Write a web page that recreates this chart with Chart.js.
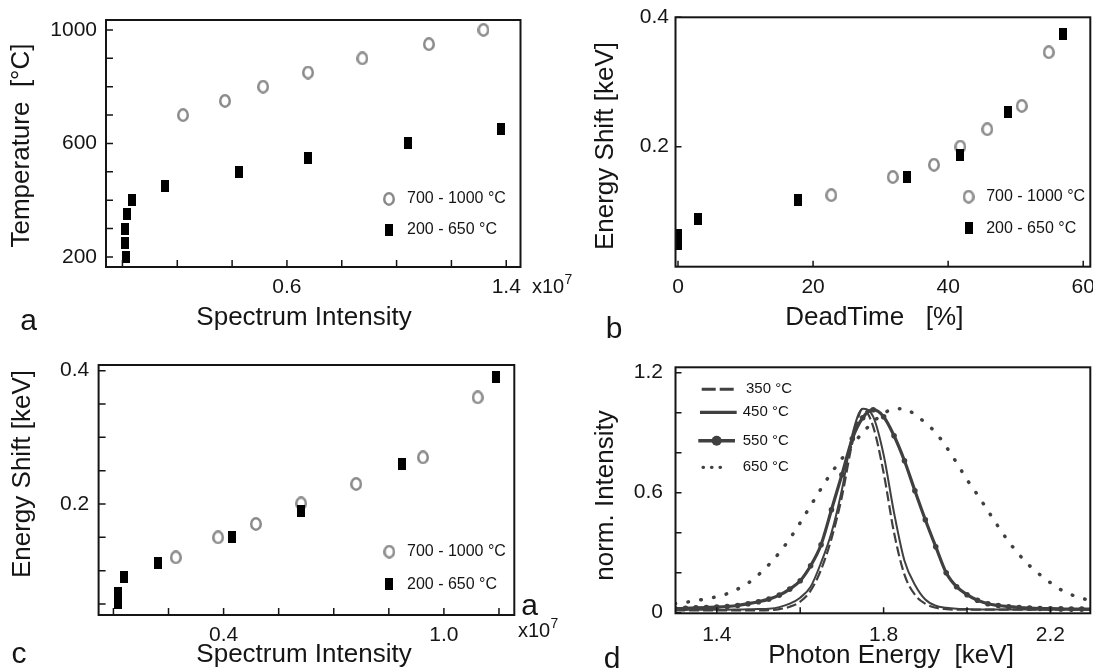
<!DOCTYPE html>
<html>
<head>
<meta charset="utf-8">
<script src="https://cdn.jsdelivr.net/npm/chart.js"></script>
<style>
  html, body { margin: 0; padding: 0; background: #fff; }
  #page { position: relative; width: 1093px; height: 672px; overflow: hidden; }
  #page canvas { position: absolute; }
</style>
</head>
<body>
<div id="page">
  <canvas id="chartA" width="580" height="336" style="left:0px;top:0px"></canvas>
  <canvas id="chartB" width="547" height="345" style="left:546px;top:0px"></canvas>
  <canvas id="chartC" width="565" height="336" style="left:0px;top:336px"></canvas>
  <canvas id="chartD" width="547" height="336" style="left:546px;top:336px"></canvas>
</div>
<script>
// ---- panel a : temperature vs spectrum intensity (x1e7)
const hotIntensityA = [0.221, 0.374, 0.513, 0.677, 0.875, 1.118, 1.317];
const hotTempA = [700, 750, 800, 850, 900, 950, 1000];
const coldIntensityA = [0.013, 0.010, 0.010, 0.015, 0.035, 0.157, 0.426, 0.677, 1.041, 1.380];
const coldTempA = [200, 250, 300, 350, 400, 450, 500, 550, 600, 650];
const xTicksA = [0, 0.2, 0.4, 0.6, 0.8, 1.0, 1.2, 1.4];
const xLabelsA = [0.6, 1.4];
const yTicksA = [200, 300, 400, 500, 600, 700, 800, 900, 1000];
const yLabelsA = [200, 600, 1000];

// ---- panel b : energy shift vs dead time
const hotDeadB = [22.7, 31.8, 37.9, 41.8, 45.8, 50.9, 54.9];
const hotShiftB = [0.125, 0.153, 0.172, 0.200, 0.227, 0.263, 0.346];
const coldDeadB = [0, 0, 2.9, 17.8, 33.9, 41.8, 48.9, 57.0];
const coldShiftB = [0.050, 0.063, 0.088, 0.117, 0.153, 0.187, 0.254, 0.374];
const xTicksB = [0, 20, 40, 60];
const yTicksB = [0.2, 0.4];

// ---- panel c : energy shift vs spectrum intensity (x1e7)
const hotIntensityC = [0.270, 0.385, 0.488, 0.611, 0.761, 0.943, 1.092];
const hotShiftC = [0.120, 0.150, 0.170, 0.201, 0.230, 0.270, 0.360];
const coldIntensityC = [0.113, 0.113, 0.129, 0.222, 0.423, 0.611, 0.885, 1.141];
const coldShiftC = [0.051, 0.066, 0.091, 0.111, 0.151, 0.190, 0.260, 0.390];
const xTicksC = [0.1, 0.25, 0.4, 0.55, 0.7, 0.85, 1.0, 1.15];
const xLabelsC = [0.4, 1.0];
const yTicksC = [0.05, 0.1, 0.15, 0.2, 0.25, 0.3, 0.35, 0.4];
const yLabelsC = [0.2, 0.4];

// ---- panel d : normalised spectra
const photonEnergy = [1.300, 1.325, 1.350, 1.375, 1.400, 1.425, 1.450, 1.475, 1.500, 1.525,
  1.550, 1.575, 1.600, 1.625, 1.650, 1.675, 1.700, 1.725, 1.750, 1.775,
  1.800, 1.825, 1.850, 1.875, 1.900, 1.925, 1.950, 1.975, 2.000, 2.025,
  2.050, 2.075, 2.100, 2.125, 2.150, 2.175, 2.200, 2.225, 2.250, 2.275, 2.300];
const spec350 = [0.012, 0.012, 0.012, 0.012, 0.012, 0.012, 0.012, 0.012, 0.012, 0.013,
  0.018, 0.030, 0.055, 0.110, 0.215, 0.370, 0.580, 0.850, 1.020, 0.930,
  0.700, 0.400, 0.190, 0.090, 0.045, 0.025, 0.018, 0.015, 0.015, 0.015,
  0.015, 0.015, 0.015, 0.015, 0.015, 0.015, 0.015, 0.015, 0.015, 0.015, 0.015];
const spec450 = [0.015, 0.015, 0.015, 0.015, 0.015, 0.015, 0.016, 0.017, 0.018, 0.020,
  0.028, 0.045, 0.075, 0.130, 0.250, 0.400, 0.615, 0.890, 1.020, 0.980,
  0.790, 0.500, 0.260, 0.140, 0.066, 0.035, 0.025, 0.020, 0.018, 0.016,
  0.016, 0.016, 0.016, 0.016, 0.016, 0.016, 0.016, 0.016, 0.016, 0.016, 0.016];
const spec550 = [0.020, 0.022, 0.024, 0.026, 0.028, 0.031, 0.036, 0.045, 0.055, 0.068,
  0.088, 0.118, 0.160, 0.235, 0.340, 0.515, 0.690, 0.870, 0.975, 1.015,
  0.980, 0.885, 0.760, 0.610, 0.465, 0.330, 0.200, 0.130, 0.090, 0.062,
  0.045, 0.036, 0.030, 0.026, 0.023, 0.021, 0.020, 0.019, 0.018, 0.018, 0.017];
const spec650 = [0.045, 0.052, 0.060, 0.070, 0.080, 0.095, 0.118, 0.148, 0.190, 0.240,
  0.300, 0.370, 0.450, 0.535, 0.620, 0.700, 0.770, 0.840, 0.900, 0.955,
  0.995, 1.020, 1.020, 0.990, 0.950, 0.900, 0.830, 0.750, 0.665, 0.590,
  0.510, 0.430, 0.355, 0.290, 0.235, 0.190, 0.150, 0.115, 0.090, 0.072, 0.060];
const xTicksD = [1.4, 1.6, 1.8, 2.0, 2.2];
const xLabelsD = [1.4, 1.8, 2.2];
const yTicksD = [0, 0.2, 0.4, 0.6, 0.8, 1.0, 1.2];
const yLabelsD = [0, 0.6, 1.2];

const FONT = '"Liberation Sans", Arial, sans-serif';
const INK = '#151515';
const CIRCLE_GREY = '#8a8a8a';
const CURVE_GREY = '#404040';

Chart.defaults.font.family = FONT;
Chart.defaults.color = INK;

const pairs = (xs, ys) => xs.map((x, i) => ({ x: x, y: ys[i] }));

// black upright rectangle used for the 200 - 650 °C series
const makeBar = (w, h) => {
  const c = document.createElement('canvas');
  c.width = w;
  c.height = h;
  const g = c.getContext('2d');
  g.fillStyle = '#000';
  g.fillRect(0, 0, w, h);
  return c;
};
// slightly tall grey ring used for the 700 - 1000 °C series
const makeRing = (w, h, lw) => {
  const c = document.createElement('canvas');
  c.width = w;
  c.height = h;
  const g = c.getContext('2d');
  g.strokeStyle = CIRCLE_GREY;
  g.lineWidth = lw;
  g.beginPath();
  g.ellipse(w / 2, h / 2, w / 2 - lw / 2, h / 2 - lw / 2, 0, 0, Math.PI * 2);
  g.stroke();
  return c;
};
const barMarker = makeBar(8, 12);
const ringMarker = makeRing(12, 14, 2.5);

// frame, inward ticks, in-plot legend and free text for each panel
const panelDecor = {
  id: 'panelDecor',
  afterDraw(chart, args, opts) {
    const ctx = chart.ctx;
    const area = chart.chartArea;
    const xs = chart.scales.x;
    const ys = chart.scales.y;
    ctx.save();
    ctx.strokeStyle = INK;
    ctx.lineWidth = 1.5;
    ctx.beginPath();
    xs.ticks.forEach(t => {
      const px = xs.getPixelForValue(t.value);
      ctx.moveTo(px, area.bottom);
      ctx.lineTo(px, area.bottom - opts.tickLen);
    });
    ys.ticks.forEach(t => {
      const py = ys.getPixelForValue(t.value);
      ctx.moveTo(area.left, py);
      ctx.lineTo(area.left + opts.tickLen, py);
    });
    ctx.stroke();
    ctx.lineWidth = 2;
    ctx.strokeRect(area.left, area.top, area.right - area.left, area.bottom - area.top);

    (opts.legend || []).forEach(item => {
      const ds = chart.data.datasets[item.dataset];
      ctx.save();
      if (item.kind === 'image') {
        const img = ds.pointStyle;
        ctx.drawImage(img, item.x - img.width / 2, item.y - img.height / 2);
      } else {
        ctx.strokeStyle = ds.borderColor;
        ctx.lineWidth = item.width;
        ctx.lineCap = item.cap || 'butt';
        ctx.setLineDash(item.dash || []);
        ctx.beginPath();
        ctx.moveTo(item.x0, item.y);
        ctx.lineTo(item.x1, item.y);
        ctx.stroke();
        if (item.dot) {
          ctx.setLineDash([]);
          ctx.fillStyle = ds.borderColor;
          ctx.beginPath();
          ctx.arc((item.x0 + item.x1) / 2, item.y, item.dot, 0, Math.PI * 2);
          ctx.fill();
        }
      }
      ctx.fillStyle = INK;
      ctx.font = opts.legendSize + 'px ' + FONT;
      ctx.textAlign = 'left';
      ctx.textBaseline = 'middle';
      ctx.fillText(ds.label, item.tx, item.y);
      ctx.restore();
    });

    (opts.texts || []).forEach(t => {
      ctx.save();
      ctx.fillStyle = INK;
      ctx.font = t.size + 'px ' + FONT;
      ctx.textAlign = t.align || 'center';
      ctx.textBaseline = t.baseline || 'middle';
      ctx.translate(t.x, t.y);
      if (t.rotate) ctx.rotate(t.rotate * Math.PI / 180);
      ctx.fillText(t.text, 0, 0);
      ctx.restore();
    });
    ctx.restore();
  }
};

const buildOptions = (cfg) => ({
  responsive: false,
  animation: false,
  events: [],
  layout: { autoPadding: false, padding: cfg.padding },
  plugins: {
    legend: { display: false },
    tooltip: { enabled: false },
    panelDecor: cfg.decor
  },
  scales: {
    x: {
      type: 'linear',
      bounds: 'data',
      min: cfg.xMin,
      max: cfg.xMax,
      grid: { display: false, drawTicks: false },
      border: { display: false },
      afterBuildTicks: ax => { ax.ticks = cfg.xTicks.map(v => ({ value: v })); },
      afterFit: ax => { ax.height = cfg.xHeight; ax.paddingLeft = 0; ax.paddingRight = 0; },
      ticks: {
        padding: cfg.xPad,
        autoSkip: false,
        maxRotation: 0,
        font: { size: 21 },
        color: INK,
        callback: v => cfg.xLabels.includes(v) ? cfg.xFmt(v) : ''
      }
    },
    y: {
      type: 'linear',
      bounds: 'data',
      min: cfg.yMin,
      max: cfg.yMax,
      grid: { display: false, drawTicks: false },
      border: { display: false },
      afterBuildTicks: ax => { ax.ticks = cfg.yTicks.map(v => ({ value: v })); },
      afterFit: ax => { ax.width = cfg.yWidth; ax.paddingTop = 0; ax.paddingBottom = 0; },
      ticks: {
        padding: cfg.yPad,
        autoSkip: false,
        font: { size: 21 },
        color: INK,
        callback: v => cfg.yLabels.includes(v) ? cfg.yFmt(v) : ''
      }
    }
  }
});

const hotStyle = {
  label: '700 - 1000 °C',
  pointStyle: ringMarker,
  pointRadius: 6,
  borderWidth: 0,
  borderColor: CIRCLE_GREY,
  backgroundColor: 'rgba(255,255,255,0)'
};
const coldStyle = {
  label: '200 - 650 °C',
  pointStyle: barMarker,
  pointRadius: 6,
  borderWidth: 0,
  borderColor: '#000',
  backgroundColor: '#000'
};

// panel a
new Chart(document.getElementById('chartA'), {
  type: 'scatter',
  data: {
    datasets: [
      Object.assign({ data: pairs(coldIntensityA, coldTempA) }, coldStyle),
      Object.assign({ data: pairs(hotIntensityA, hotTempA) }, hotStyle)
    ]
  },
  options: buildOptions({
    padding: { left: 0, top: 20, right: 59.5, bottom: 0 },
    xMin: -0.06, xMax: 1.452, xTicks: xTicksA, xLabels: xLabelsA, xFmt: v => v.toFixed(1),
    yMin: 164.8, yMax: 1035, yTicks: yTicksA, yLabels: yLabelsA, yFmt: v => String(v),
    xHeight: 69, yWidth: 106, xPad: 8, yPad: 9,
    decor: {
      tickLen: 7,
      legendSize: 16,
      legend: [
        { dataset: 1, kind: 'image', x: 389, y: 199, tx: 407 },
        { dataset: 0, kind: 'image', x: 389, y: 230, tx: 407 }
      ],
      texts: [
        { text: 'Spectrum Intensity', x: 304, y: 317.6, size: 26 },
        { text: 'Temperature  [°C]', x: 22, y: 145.5, size: 26, rotate: -90 },
        { text: 'a', x: 28.5, y: 330, size: 30, baseline: 'alphabetic' },
        { text: 'x10', x: 532, y: 293, size: 20, align: 'left', baseline: 'alphabetic' },
        { text: '7', x: 564.5, y: 284, size: 14, align: 'left', baseline: 'alphabetic' }
      ]
    }
  }),
  plugins: [panelDecor]
});

// panel b
new Chart(document.getElementById('chartB'), {
  type: 'scatter',
  data: {
    datasets: [
      Object.assign({ data: pairs(coldDeadB, coldShiftB) }, coldStyle),
      Object.assign({ data: pairs(hotDeadB, hotShiftB) }, hotStyle)
    ]
  },
  options: buildOptions({
    padding: { left: 0, top: 17.3, right: 2.7, bottom: 0 },
    xMin: -0.37, xMax: 61.05, xTicks: xTicksB, xLabels: xTicksB, xFmt: v => String(v),
    yMin: 0.0144, yMax: 0.4, yTicks: yTicksB, yLabels: yTicksB, yFmt: v => v.toFixed(1),
    xHeight: 78.3, yWidth: 129.5, xPad: 7.7, yPad: 6.5,
    decor: {
      tickLen: 6,
      legendSize: 16,
      legend: [
        { dataset: 1, kind: 'image', x: 422.6, y: 196.7, tx: 440.2 },
        { dataset: 0, kind: 'image', x: 422.6, y: 228.3, tx: 440.2 }
      ],
      texts: [
        { text: 'DeadTime   [%]', x: 328.3, y: 317.6, size: 26 },
        { text: 'Energy Shift [keV]', x: 59.5, y: 146, size: 26, rotate: -90 },
        { text: 'b', x: 68, y: 338, size: 30, baseline: 'alphabetic' }
      ]
    }
  }),
  plugins: [panelDecor]
});

// panel c
new Chart(document.getElementById('chartC'), {
  type: 'scatter',
  data: {
    datasets: [
      Object.assign({ data: pairs(coldIntensityC, coldShiftC) }, coldStyle),
      Object.assign({ data: pairs(hotIntensityC, hotShiftC) }, hotStyle)
    ]
  },
  options: buildOptions({
    padding: { left: 0, top: 29, right: 50.7, bottom: 0 },
    xMin: 0.0596, xMax: 1.1917, xTicks: xTicksC, xLabels: xLabelsC, xFmt: v => v.toFixed(1),
    yMin: 0.0335, yMax: 0.4085, yTicks: yTicksC, yLabels: yLabelsC, yFmt: v => v.toFixed(1),
    xHeight: 57, yWidth: 98.6, xPad: 7.4, yPad: 9.3,
    decor: {
      tickLen: 7,
      legendSize: 16,
      legend: [
        { dataset: 1, kind: 'image', x: 389.3, y: 215.7, tx: 407 },
        { dataset: 0, kind: 'image', x: 389.3, y: 248.3, tx: 407 }
      ],
      texts: [
        { text: 'Spectrum Intensity', x: 304, y: 319, size: 26 },
        { text: 'Energy Shift [keV]', x: 22.6, y: 138, size: 26, rotate: -90 },
        { text: 'c', x: 19, y: 327, size: 30, baseline: 'alphabetic' },
        { text: 'a', x: 529.5, y: 279, size: 30, baseline: 'alphabetic' },
        { text: 'x10', x: 518, y: 301, size: 20, align: 'left', baseline: 'alphabetic' },
        { text: '7', x: 550.5, y: 292, size: 14, align: 'left', baseline: 'alphabetic' }
      ]
    }
  }),
  plugins: [panelDecor]
});

// panel d
new Chart(document.getElementById('chartD'), {
  type: 'line',
  data: {
    datasets: [
      { label: '350 °C', data: pairs(photonEnergy, spec350), borderColor: CURVE_GREY, borderWidth: 2.2,
        borderDash: [10, 4], pointRadius: 0, cubicInterpolationMode: 'monotone' },
      { label: '450 °C', data: pairs(photonEnergy, spec450), borderColor: CURVE_GREY, borderWidth: 2,
        pointRadius: 0, cubicInterpolationMode: 'monotone' },
      { label: '550 °C', data: pairs(photonEnergy, spec550), borderColor: CURVE_GREY, borderWidth: 3.2,
        pointRadius: 2.8, pointBackgroundColor: CURVE_GREY, pointBorderWidth: 0, cubicInterpolationMode: 'monotone' },
      { label: '650 °C', data: pairs(photonEnergy, spec650), borderColor: CURVE_GREY, borderWidth: 3.5,
        borderDash: [0.5, 12.5], borderCapStyle: 'round', pointRadius: 0, cubicInterpolationMode: 'monotone' }
    ]
  },
  options: buildOptions({
    padding: { left: 0, top: 31.3, right: 2.7, bottom: 0 },
    xMin: 1.301, xMax: 2.2956, xTicks: xTicksD, xLabels: xLabelsD, xFmt: v => v.toFixed(1),
    yMin: -0.003, yMax: 1.227, yTicks: yTicksD, yLabels: yLabelsD, yFmt: v => v === 0 ? '0' : v.toFixed(1),
    xHeight: 58.7, yWidth: 129.5, xPad: 9.6, yPad: 12.5,
    decor: {
      tickLen: 6,
      legendSize: 15,
      legend: [
        { dataset: 0, kind: 'line', x0: 155.7, x1: 189, y: 53.3, width: 3, dash: [14, 4], tx: 200 },
        { dataset: 1, kind: 'line', x0: 154, x1: 190.7, y: 76.3, width: 3.3, tx: 196.7 },
        { dataset: 2, kind: 'line', x0: 152.3, x1: 189, y: 104.7, width: 3.6, dot: 5, tx: 196.7 },
        { dataset: 3, kind: 'line', x0: 157, x1: 181, y: 131.3, width: 3.2, dash: [0.5, 8], cap: 'round', tx: 196.7 }
      ],
      texts: [
        { text: 'Photon Energy  [keV]', x: 345, y: 320, size: 26 },
        { text: 'norm. Intensity', x: 60, y: 159.5, size: 26, rotate: -90 },
        { text: 'd', x: 66, y: 332, size: 30, baseline: 'alphabetic' }
      ]
    }
  }),
  plugins: [panelDecor]
});
</script>
</body>
</html>
